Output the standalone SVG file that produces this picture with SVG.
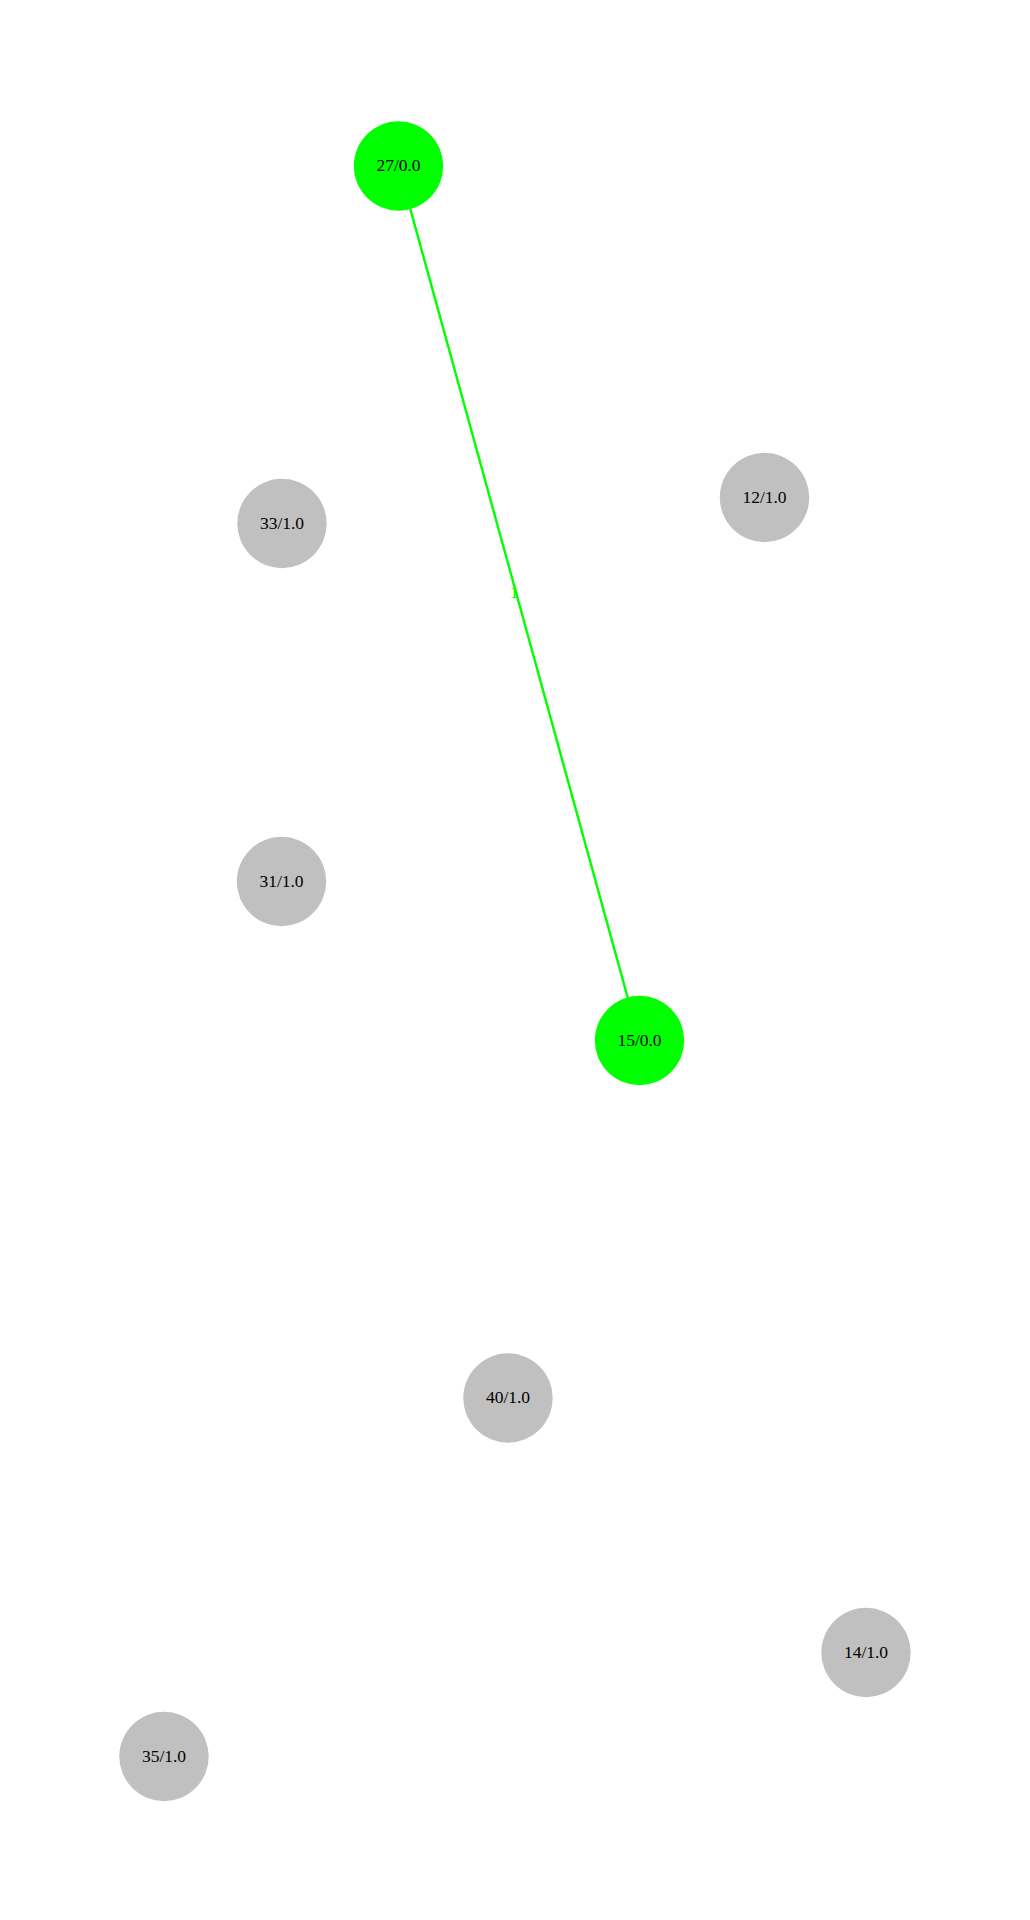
<svg xmlns="http://www.w3.org/2000/svg" width="1030" height="1920" viewBox="0 0 1030 1920">
<style>
.n{stroke:none}
.g{fill:#00ff00}
.s{fill:#c0c0c0}
.t{font-family:"Liberation Serif","Times New Roman",serif;font-size:17.5px;fill:#000000;text-anchor:middle}
.e{stroke:#00ff00;stroke-width:2.4;fill:none}
.el{font-family:"Liberation Serif","Times New Roman",serif;font-size:17.5px;fill:#00ff00;text-anchor:middle}
</style>
<rect width="1030" height="1920" fill="#ffffff"/>
<g id="edges">
<line class="e" x1="410.3" y1="208.9" x2="627.7" y2="997.6"/>
<text class="el" x="514" y="598">1</text>
</g>
<g id="node27"><circle class="n g" cx="398.5" cy="166" r="44.7"/><text class="t" x="398.5" y="171">27/0.0</text></g>
<g id="node33"><circle class="n s" cx="282" cy="523.5" r="44.7"/><text class="t" x="282" y="528.5">33/1.0</text></g>
<g id="node12"><circle class="n s" cx="764.5" cy="497.5" r="44.7"/><text class="t" x="764.5" y="502.5">12/1.0</text></g>
<g id="node31"><circle class="n s" cx="281.5" cy="881.5" r="44.7"/><text class="t" x="281.5" y="886.5">31/1.0</text></g>
<g id="node15"><circle class="n g" cx="639.5" cy="1040.5" r="44.7"/><text class="t" x="639.5" y="1045.5">15/0.0</text></g>
<g id="node40"><circle class="n s" cx="508" cy="1398" r="44.7"/><text class="t" x="508" y="1403">40/1.0</text></g>
<g id="node14"><circle class="n s" cx="866" cy="1652.5" r="44.7"/><text class="t" x="866" y="1657.5">14/1.0</text></g>
<g id="node35"><circle class="n s" cx="164" cy="1756.5" r="44.7"/><text class="t" x="164" y="1761.5">35/1.0</text></g>
</svg>
